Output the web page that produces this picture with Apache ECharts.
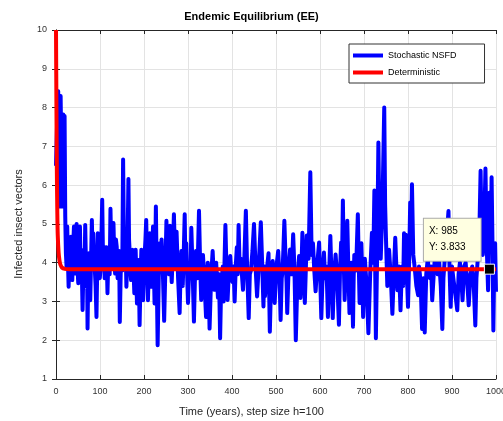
<!DOCTYPE html>
<html><head><meta charset="utf-8">
<script src="https://cdn.jsdelivr.net/npm/echarts@6/dist/echarts.min.js"></script>
<style>html,body{margin:0;padding:0;background:#fff}#c{width:503px;height:421px}</style>
</head><body><div id="c"></div>
<script>
// ---- data ----
var titleText = 'Endemic Equilibrium (EE)';
var xLabel = 'Time (years), step size h=100';
var yLabel = 'Infected insect vectors';
var seriesNames = ['Stochastic NSFD', 'Deterministic'];
var xTicks = [0,100,200,300,400,500,600,700,800,900,1000];
var yTicks = [1,2,3,4,5,6,7,8,9,10];

var stochT = [0,2.5,5,7.5,9,10.5,12,13.5,15,16.5,18,19.5,21,22.5,24,25.5,27,28.7,30.2,31.7,33,34,35.5,37,39,40.8,42.3,43.8,45.3,46.8,48.7,50.6,52.5,54.4,56,57.4,59,60.4,62,63.4,65,66.4,68,69.5,70.6,71.7,73.2,74.7,76.2,77.8,79.6,81.5,83,84.6,86.5,88.3,90,92,93.5,95,96.5,98,99.5,101,103,105,107,108.7,110.6,112.5,114.7,117,118.5,120,122,123.8,125.7,127.6,129,130.6,132.5,134.4,136.2,138,140,142,143.5,145,147,148.7,150.6,152.5,154.4,156.3,158,160,162.3,164.6,166,167.6,169,170.6,172.5,174.4,176,178,179.5,181,182.5,184,185.5,187,188.5,190,192,194,196,198,200,201.6,203.3,205,207,209,211,213,215,216.7,218.6,220.5,222.3,224,225.5,227,229,231,
233.5,236,238,240,243,245.8,248.5,251,253,255,257,259,261,263,265.5,268,271,274,277.5,281,283,285,286.5,288,290,292.5,294,296,298,300,302,304,305.7,307.5,310.5,313.5,316,318,319.5,321,323,325,327.5,330,332,334,337.5,341,343,345,347,349,352.5,356,358,360,362,364,366,368,370.5,373,375,377,379,381,383,385,387.5,390,393,396,398.5,401,403.5,406,408.5,411,413,415,417.5,420,422.5,425,428,431.5,434.5,438,440.5,443,446.5,450,453.5,457,461,465.5,468.5,471.5,473.5,475,479,
483,486,489,492.5,495,497,501,505,508,510.5,513,515,517,519,522,524,525.5,528.5,532,535.5,539,542,545,548.5,552.5,554,555.5,558,560,563,565.5,568,570,574,578,581,584,587,590,594,598,600.5,603,606,609,611.5,614,616,618,621,623.5,626,629,632,635.5,639,643,645.5,648,650,652,654,656,659,662,664.5,667,669,671,673,675,676.5,678,682,686,688,690,692,694,696,698,700,702,706,710,714,718,721,723.6,725.3,727,730,732.7,
735,738,742,746,748,750,753,755,757,761,764.5,768,771,773.5,776,779.5,783,785,787,789,791,793,795,797.5,800,802.5,805,807,809,812,815,819,823,825,827,829.5,832,833.5,835,836.5,838,841.5,845,847.5,850,852.5,855,859.5,864,867.5,871,874.5,878,880.5,883,887.5,892,894.5,897,900,903,907.5,912,915,918,921,924,927.5,931,934.5,938,942,946,949.5,953,955.5,958,961.5,965,967.5,970,973,976,979,982,985,988,990,992,994,996,998,1000];
var stochY = [6.5,7.6,8.42,5.45,6.8,8.3,7.0,5.45,6.5,7.82,6.9,7.78,5.2,4.24,3.9,4.93,4.1,3.38,4.1,3.72,4.2,4.67,3.9,3.55,4.4,4.93,4.0,3.72,4.5,5.0,3.9,3.47,4.2,4.93,3.8,4.33,3.6,2.78,3.7,4.24,3.9,4.97,4.0,3.38,3.9,2.3,3.6,4.24,3.9,3.03,4.0,5.1,4.2,4.76,4.1,3.81,3.4,2.6,3.7,4.76,3.9,4.41,3.6,3.81,4.5,5.62,4.0,4.41,3.6,3.9,4.4,3.21,3.9,4.33,3.7,5.39,4.2,4.76,3.9,5.02,4.1,3.72,4.6,4.41,3.6,3.81,4.3,2.47,3.7,4.24,3.8,6.66,4.5,4.07,4.6,3.38,4.2,6.16,4.6,4.24,3.8,3.55,4.1,4.33,3.9,3.21,3.9,4.33,3.7,2.95,3.8,4.07,3.6,2.39,3.5,4.33,3.8,3.03,3.8,4.24,4.6,5.1,4.0,3.03,3.9,4.76,4.0,3.38,4.2,4.93,3.9,2.95,4.2,5.45,3.6,1.87,
3.6,4.5,3.9,4.6,3.7,2.5,3.8,5.08,3.9,4.2,3.7,4.95,4.0,3.5,4.3,5.25,3.9,4.8,3.6,2.7,3.7,4.3,3.8,3.4,4.1,5.25,4.0,4.5,3.7,2.96,3.6,4.0,3.6,4.9,3.8,2.48,3.7,4.3,3.9,3.6,4.4,5.34,4.0,3.04,3.7,4.2,3.5,2.6,3.7,4.0,3.5,2.3,3.6,4.3,3.8,3.3,3.8,4.0,3.6,3.1,3.7,2.05,3.2,3.6,3.9,3.0,4.0,4.97,3.8,3.04,3.8,4.17,3.7,3.5,3.9,3.0,3.9,4.4,3.7,4.97,3.8,4.1,3.7,3.3,4.1,5.34,3.8,2.57,3.7,3.8,4.3,5.0,3.9,3.13,4.0,5.04,4.0,2.87,3.9,3.14,3.8,
4.24,2.22,3.6,4.04,3.5,2.96,3.9,4.3,3.6,2.52,3.6,3.8,4.4,5.08,4.0,3.5,2.7,3.8,4.34,3.7,4.73,3.8,2.0,3.5,4.17,3.6,3.09,3.9,4.77,3.8,2.96,3.9,4.7,4.1,6.33,4.2,4.5,3.8,3.26,4.0,4.52,3.6,2.57,3.7,4.26,3.6,3.9,3.4,2.6,3.8,4.69,3.7,2.57,3.7,4.21,3.6,2.4,3.8,4.52,4.0,5.6,4.0,3.04,4.0,5.08,3.8,2.7,3.7,4.0,3.5,2.35,3.6,4.2,3.8,5.25,4.0,2.96,3.8,4.5,3.7,2.6,3.6,4.1,3.4,2.18,3.7,4.77,4.0,5.86,4.0,2.05,4.3,7.1,
5.0,4.1,5.5,8.0,5.5,4.6,3.4,3.9,4.33,3.6,2.68,3.8,4.64,3.9,3.29,3.9,2.77,3.5,3.9,3.4,4.76,3.8,4.72,3.7,2.86,4.0,5.55,4.3,6.02,4.2,3.9,3.4,3.16,3.9,3.7,3.2,2.29,3.3,3.6,3.1,2.2,3.7,4.11,3.7,3.6,3.9,3.03,3.9,4.42,3.7,4.0,3.4,2.29,3.6,4.0,4.6,5.33,3.8,2.86,3.9,3.6,3.2,2.77,3.7,4.0,3.6,3.03,3.9,4.0,3.5,2.9,3.7,3.9,3.4,2.38,3.6,4.0,4.4,6.37,4.6,4.2,4.8,6.43,4.4,3.29,5.8,4.4,6.2,4.5,2.25,4.0,4.5,3.25];

var detT = [0,1,2,3,4,6,8,10,14,20,30,1000];
var detY = [10,8.0,6.3,5.3,4.7,4.25,4.05,3.95,3.87,3.84,3.833,3.833];

var tipX = 985, tipY = 3.833;

function zip(a,b){var r=[];for(var i=0;i<a.length;i++)r.push([a[i],b[i]]);return r;}

var FONT = 'Liberation Sans, Arial, Helvetica, sans-serif';
var chart = echarts.init(document.getElementById('c'), null, {renderer:'canvas'});
var gridLine = {show:true, lineStyle:{color:'#e3e3e3', width:1}};
var axLine = {show:true, lineStyle:{color:'#262626', width:1}};
var tick = {show:true, inside:true, length:4, lineStyle:{color:'#262626'}};
var option = {
  animation:false,
  backgroundColor:'#fff',
  title:[
    {text:titleText, left:'center', top:6, textStyle:{fontFamily:FONT, fontSize:11, fontWeight:'bold', color:'#000'}},
    {text:xLabel, left:'center', top:401, textStyle:{fontFamily:FONT, fontSize:11, fontWeight:'normal', color:'#262626'}}
  ],
  graphic:[{
    type:'text', x:19, y:224, rotation:Math.PI/2,
    style:{text:yLabel, align:'center', verticalAlign:'middle', font:'11px '+FONT, fill:'#262626'}
  }],
  grid:{left:56, right:7, top:30, bottom:42, show:false, outerBoundsMode:'none', containLabel:false},
  legend:{
    data:seriesNames, orient:'vertical', left:349, top:44,
    backgroundColor:'#fff', borderColor:'#333', borderWidth:1,
    padding:[7,28,6,4], itemGap:8, itemWidth:30, itemHeight:4, icon:'rect',
    textStyle:{fontFamily:FONT, fontSize:9, color:'#000'}
  },
  xAxis:[{
    type:'value', min:0, max:1000, interval:100,
    axisLine:axLine, axisTick:tick,
    axisLabel:{fontFamily:FONT, fontSize:9, color:'#333', margin:8, formatter:function(v){return String(v);}},
    splitLine:gridLine
  },{
    type:'value', min:0, max:1000, interval:100, position:'top',
    axisLine:axLine, axisTick:tick, axisLabel:{show:false}, splitLine:{show:false}
  }],
  yAxis:[{
    type:'value', min:1, max:10, interval:1,
    axisLine:axLine, axisTick:tick,
    axisLabel:{fontFamily:FONT, fontSize:9, color:'#333', margin:9},
    splitLine:gridLine
  },{
    type:'value', min:1, max:10, interval:1, position:'right',
    axisLine:axLine, axisTick:tick, axisLabel:{show:false}, splitLine:{show:false}
  }],
  series:[{
    name:seriesNames[0], type:'line', data:zip(stochT, stochY),
    showSymbol:false, symbol:'none', color:'#0000ff',
    lineStyle:{color:'#0000ff', width:4, join:'round'}, z:2
  },{
    name:seriesNames[1], type:'line', data:zip(detT, detY),
    showSymbol:false, symbol:'none', color:'#ff0000', smooth:0.3,
    lineStyle:{color:'#ff0000', width:4}, z:3,
    markPoint:{
      symbol:'rect', symbolSize:10, z:10,
      itemStyle:{color:'#000', borderColor:'#fff', borderWidth:1},
      data:[{coord:[tipX, tipY]}],
      label:{
        show:true, position:[-60,-45], align:'left', verticalAlign:'top',
        formatter:function(){return 'X: '+tipX+'\nY: '+tipY;},
        fontFamily:FONT, fontSize:10, color:'#000', lineHeight:16,
        backgroundColor:'#ffffe1', borderColor:'#aaa', borderWidth:1,
        padding:[5,15,5,5]
      }
    }
  }]
};
chart.setOption(option);
</script></body></html>
